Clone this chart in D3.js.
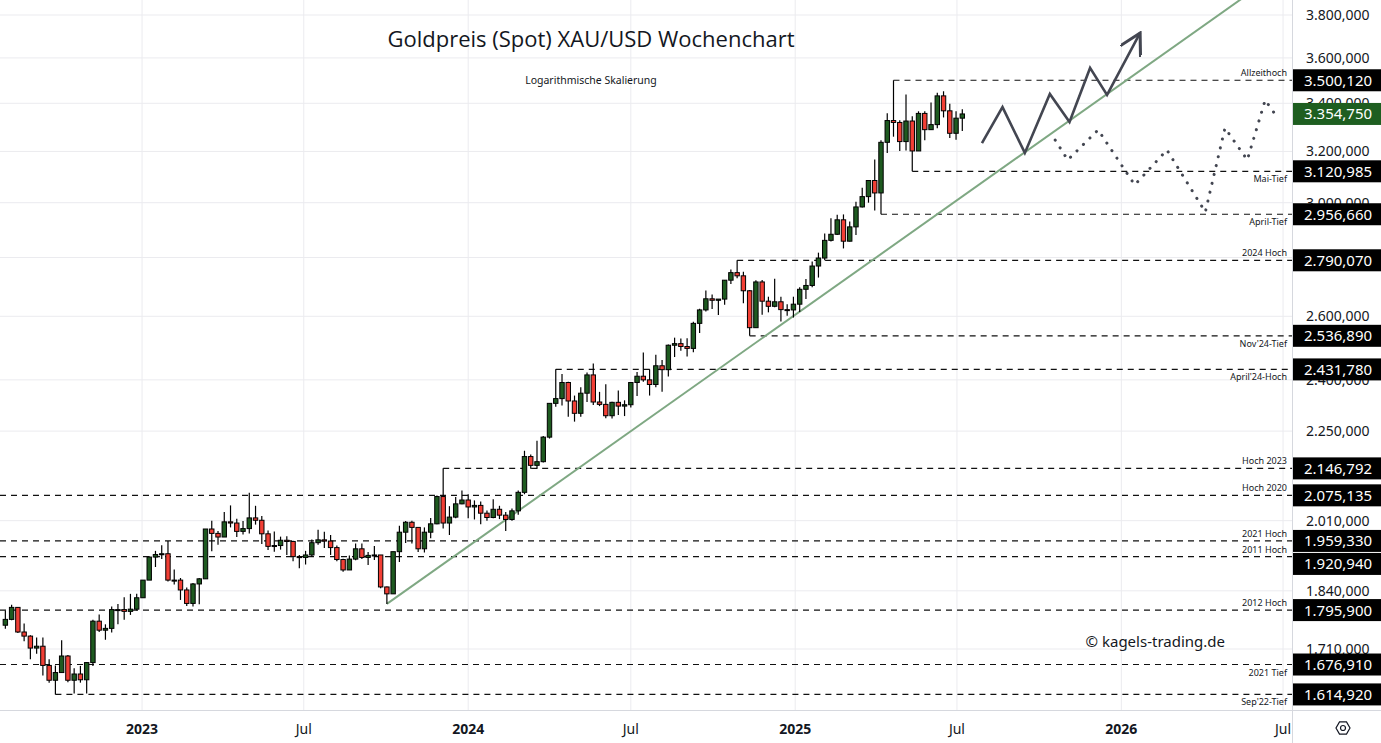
<!DOCTYPE html>
<html>
<head>
<meta charset="utf-8">
<script src="https://cdn.jsdelivr.net/npm/d3@7"></script>
<style>
  body { margin: 0; background: #fff; }
  svg { display: block; font-family: "Noto Sans", "Open Sans", sans-serif; }
</style>
</head>
<body>
<div id="chart"></div>
<script>
// weekly candles: week start, open, high, low, close
const candles = [
  ["2022-08-01",1762,1795,1754,1775],["2022-08-08",1775,1808,1773,1802],["2022-08-15",1802,1803,1745,1747],
  ["2022-08-22",1747,1766,1727,1738],["2022-08-29",1738,1740,1688,1712],["2022-09-05",1712,1735,1700,1716],
  ["2022-09-12",1716,1735,1654,1675],["2022-09-19",1675,1688,1639,1644],["2022-09-26",1644,1675,1615,1660],
  ["2022-10-03",1660,1729,1660,1695],["2022-10-10",1695,1697,1640,1644],["2022-10-17",1644,1669,1617,1657],
  ["2022-10-24",1657,1674,1639,1645],["2022-10-31",1645,1682,1617,1681],["2022-11-07",1681,1774,1674,1771],
  ["2022-11-14",1771,1786,1747,1751],["2022-11-21",1751,1764,1730,1755],["2022-11-28",1755,1804,1746,1797],
  ["2022-12-05",1797,1810,1764,1797],["2022-12-12",1797,1825,1774,1793],["2022-12-19",1793,1833,1785,1798],
  ["2022-12-26",1798,1833,1795,1824],
  ["2023-01-02",1824,1865,1824,1865],["2023-01-09",1865,1922,1865,1920],["2023-01-16",1920,1935,1896,1926],
  ["2023-01-23",1926,1949,1915,1928],["2023-01-30",1928,1959,1862,1865],["2023-02-06",1865,1890,1855,1865],
  ["2023-02-13",1865,1870,1819,1842],["2023-02-20",1842,1848,1805,1811],["2023-02-27",1811,1858,1804,1856],
  ["2023-03-06",1856,1870,1809,1868],["2023-03-13",1868,1989,1868,1989],["2023-03-20",1989,2010,1934,1978],
  ["2023-03-27",1978,1984,1950,1969],["2023-04-03",1969,2032,1969,2007],["2023-04-10",2007,2049,1993,2004],
  ["2023-04-17",2004,2015,1969,1983],["2023-04-24",1983,2009,1975,1990],["2023-05-01",1990,2082,1978,2017],
  ["2023-05-08",2017,2048,2000,2011],["2023-05-15",2011,2022,1952,1977],["2023-05-22",1977,1985,1937,1946],
  ["2023-05-29",1946,1983,1933,1948],["2023-06-05",1948,1970,1938,1961],["2023-06-12",1961,1971,1925,1958],
  ["2023-06-19",1958,1960,1910,1921],["2023-06-26",1921,1925,1893,1919],["2023-07-03",1919,1935,1902,1925],
  ["2023-07-10",1925,1963,1920,1955],["2023-07-17",1955,1987,1950,1962],["2023-07-24",1962,1982,1942,1959],
  ["2023-07-31",1959,1974,1925,1943],["2023-08-07",1943,1948,1910,1914],["2023-08-14",1914,1916,1885,1889],
  ["2023-08-21",1889,1924,1889,1915],["2023-08-28",1915,1953,1912,1940],["2023-09-04",1940,1953,1915,1919],
  ["2023-09-11",1919,1932,1901,1924],["2023-09-18",1924,1947,1913,1925],["2023-09-25",1925,1925,1846,1849],
  ["2023-10-02",1849,1850,1810,1833],["2023-10-09",1833,1933,1833,1933],["2023-10-16",1933,1997,1908,1981],
  ["2023-10-23",1981,2009,1954,2006],["2023-10-30",2006,2010,1953,1993],["2023-11-06",1993,1993,1932,1940],
  ["2023-11-13",1940,1993,1931,1981],["2023-11-20",1981,2017,1966,2002],["2023-11-27",2002,2075,2001,2072],
  ["2023-12-04",2072,2147,1990,2004],["2023-12-11",2004,2047,1974,2019],["2023-12-18",2019,2071,2016,2053],
  ["2023-12-25",2053,2088,2052,2063],
  ["2024-01-01",2063,2078,2016,2045],["2024-01-08",2045,2062,2013,2049],["2024-01-15",2049,2059,2001,2029],
  ["2024-01-22",2029,2036,2010,2018],["2024-01-29",2018,2065,2016,2039],["2024-02-05",2039,2048,2014,2024],
  ["2024-02-12",2024,2032,1984,2013],["2024-02-19",2013,2041,2010,2035],["2024-02-26",2035,2088,2025,2083],
  ["2024-03-04",2083,2195,2078,2179],["2024-03-11",2179,2185,2146,2155],["2024-03-18",2155,2223,2146,2165],
  ["2024-03-25",2165,2236,2163,2233],["2024-04-01",2233,2330,2229,2330],["2024-04-08",2330,2432,2320,2344],
  ["2024-04-15",2344,2418,2324,2392],["2024-04-22",2392,2394,2291,2337],["2024-04-29",2337,2353,2277,2301],
  ["2024-05-06",2301,2378,2291,2360],["2024-05-13",2360,2422,2334,2415],["2024-05-20",2415,2450,2325,2334],
  ["2024-05-27",2334,2364,2322,2327],["2024-06-03",2327,2387,2287,2294],["2024-06-10",2294,2335,2286,2333],
  ["2024-06-17",2333,2368,2296,2322],["2024-06-24",2322,2339,2293,2326],["2024-07-01",2326,2393,2318,2392],
  ["2024-07-08",2392,2424,2352,2411],["2024-07-15",2411,2484,2394,2400],["2024-07-22",2400,2432,2353,2386],
  ["2024-07-29",2386,2477,2378,2443],["2024-08-05",2443,2461,2364,2431],["2024-08-12",2431,2509,2410,2507],
  ["2024-08-19",2507,2531,2470,2512],["2024-08-26",2512,2528,2490,2503],["2024-09-02",2503,2529,2472,2497],
  ["2024-09-09",2497,2582,2485,2577],["2024-09-16",2577,2625,2546,2621],["2024-09-23",2621,2686,2616,2658],
  ["2024-09-30",2658,2672,2624,2653],["2024-10-07",2653,2654,2604,2657],["2024-10-14",2657,2722,2638,2721],
  ["2024-10-21",2721,2758,2708,2747],["2024-10-28",2747,2790,2728,2736],["2024-11-04",2736,2750,2643,2685],
  ["2024-11-11",2685,2688,2537,2563],["2024-11-18",2563,2721,2563,2715],["2024-11-25",2715,2722,2605,2650],
  ["2024-12-02",2650,2665,2613,2633],["2024-12-09",2633,2726,2630,2648],["2024-12-16",2648,2665,2583,2622],
  ["2024-12-23",2622,2640,2602,2621],["2024-12-30",2621,2665,2596,2640],
  ["2025-01-06",2640,2697,2614,2690],["2025-01-13",2690,2725,2657,2703],["2025-01-20",2703,2786,2697,2770],
  ["2025-01-27",2770,2817,2730,2798],["2025-02-03",2798,2886,2790,2861],["2025-02-10",2861,2942,2857,2883],
  ["2025-02-17",2883,2955,2880,2936],["2025-02-24",2936,2956,2832,2858],["2025-03-03",2858,2930,2857,2910],
  ["2025-03-10",2910,3004,2880,2984],["2025-03-17",2984,3057,2982,3023],["2025-03-24",3023,3087,3000,3085],
  ["2025-03-31",3085,3168,2971,3037],["2025-04-07",3037,3245,2957,3237],["2025-04-14",3237,3358,3194,3327],
  ["2025-04-21",3327,3500,3260,3319],["2025-04-28",3319,3328,3202,3240],["2025-05-05",3240,3438,3204,3325],
  ["2025-05-12",3325,3345,3121,3202],["2025-05-19",3202,3366,3202,3357],["2025-05-26",3357,3366,3245,3289],
  ["2025-06-02",3289,3403,3288,3310],["2025-06-09",3310,3446,3295,3432],["2025-06-16",3432,3452,3340,3368],
  ["2025-06-23",3368,3398,3255,3274],["2025-06-30",3274,3366,3247,3337],["2025-07-07",3337,3375,3283,3354.75]
];

const priceTicks = [1710, 1840, 2010, 2250, 2400, 2600, 2800, 3000, 3200, 3400, 3600, 3800];
const timeTicks = ["2023-01-01","2023-07-01","2024-01-01","2024-07-01","2025-01-01","2025-07-01","2026-01-01","2026-07-01"];

// horizontal levels: value, label, start week (null = from left edge), label above line?
const levelValues = [3500.120, 3120.985, 2956.660, 2790.070, 2536.890, 2431.780, 2146.792, 2075.135, 1959.330, 1920.940, 1795.900, 1676.910, 1614.920];
const levelNames = ["Allzeithoch","Mai-Tief","April-Tief","2024 Hoch","Nov'24-Tief","April'24-Hoch","Hoch 2023","Hoch 2020","2021 Hoch","2011 Hoch","2012 Hoch","2021 Tief","Sep'22-Tief"];
const levelStarts = ["2025-04-21","2025-05-12","2025-04-07","2024-10-28","2024-11-11","2024-04-08","2023-12-04",null,null,null,null,null,"2022-09-26"];
const levelAbove = [true,false,false,true,false,false,true,true,true,true,true,false,false];

const lastPrice = 3354.75;

const trendPoints = [["2023-10-02",1810],["2025-04-07",2812]];
const scenarioUp = [["2025-07-29",3234],["2025-08-21",3384],["2025-09-15",3194],["2025-10-13",3440],["2025-11-04",3321],["2025-11-27",3555],["2025-12-16",3436],["2026-01-22",3715]];
const scenarioSide = [["2025-10-19",3246],["2025-11-02",3166],["2025-12-06",3288],["2026-01-16",3068],["2026-02-21",3206],["2026-04-05",2965],["2026-04-27",3296],["2026-05-22",3166],["2026-06-11",3414],["2026-06-25",3338]];

const W = 1381, H = 743, plotR = 1292, plotB = 710;
const parse = d3.utcParse("%Y-%m-%d");
const de = d3.formatLocale({decimal: ",", thousands: ".", grouping: [3], currency: ["", ""]});
const fmt = de.format(",.3f");

const x = d3.scaleUtc().domain([parse("2022-07-26"), parse("2026-07-11")]).range([0, plotR]);
const y = d3.scaleLog().domain([1710, 3800]).range([649, 15]);

const svg = d3.select("#chart").append("svg").attr("width", W).attr("height", H);
const defs = svg.append("defs");
defs.append("clipPath").attr("id", "plot")
  .append("rect").attr("width", plotR).attr("height", plotB);
defs.append("clipPath").attr("id", "plot2")
  .append("rect").attr("width", plotR).attr("height", H);
defs.append("marker").attr("id", "arrow")
  .attr("viewBox", "0 0 10 10").attr("refX", 9).attr("refY", 5)
  .attr("markerWidth", 9).attr("markerHeight", 9).attr("orient", "auto")
  .append("path").attr("d", "M0,0 L9,5 L0,10").attr("fill", "none")
  .attr("stroke", "#434651").attr("stroke-width", 1.3);

const plot = svg.append("g").attr("clip-path", "url(#plot)");

// grid
plot.selectAll(".hg").data(priceTicks).enter().append("line")
  .attr("x1", 0).attr("x2", plotR).attr("y1", d => y(d)).attr("y2", d => y(d))
  .attr("stroke", "#ebebef");
plot.selectAll(".vg").data(timeTicks).enter().append("line")
  .attr("x1", d => x(parse(d))).attr("x2", d => x(parse(d))).attr("y1", 0).attr("y2", plotB)
  .attr("stroke", "#ebebef");

// title
svg.append("text").attr("x", 591).attr("y", 47).attr("text-anchor", "middle")
  .style("font-family", "Open Sans").style("font-size", "22px").attr("fill", "#131722")
  .text("Goldpreis (Spot) XAU/USD Wochenchart");
svg.append("text").attr("x", 591).attr("y", 84).attr("text-anchor", "middle")
  .style("font-size", "10.5px").attr("fill", "#131722").text("Logarithmische Skalierung");

// levels
const levels = levelValues.map((v, i) => ({v, name: levelNames[i], start: levelStarts[i], above: levelAbove[i]}));
plot.selectAll(".lvl").data(levels).enter().append("line")
  .attr("x1", d => d.start ? x(parse(d.start)) : 0).attr("x2", plotR)
  .attr("y1", d => y(d.v)).attr("y2", d => y(d.v))
  .attr("stroke", "#111").attr("stroke-width", 1.2).attr("stroke-dasharray", "6,5");
plot.selectAll(".lvlt").data(levels).enter().append("text")
  .attr("x", plotR - 5).attr("y", d => y(d.v) + (d.above ? -4 : 11))
  .attr("text-anchor", "end").style("font-size", "9px").attr("fill", "#131722")
  .text(d => d.name);

// trend line
const tx0 = x(parse(trendPoints[0][0])), ty0 = y(trendPoints[0][1]);
const tx1 = x(parse(trendPoints[1][0])), ty1 = y(trendPoints[1][1]);
const slope = (ty1 - ty0) / (tx1 - tx0);
plot.append("line").attr("x1", tx0).attr("y1", ty0)
  .attr("x2", plotR).attr("y2", ty0 + slope * (plotR - tx0))
  .attr("stroke", "#7fa883").attr("stroke-width", 2);

// candles
const cw = 4.4;
const cg = plot.selectAll(".c").data(candles).enter().append("g");
cg.append("line")
  .attr("x1", d => x(parse(d[0]))).attr("x2", d => x(parse(d[0])))
  .attr("y1", d => y(d[2])).attr("y2", d => y(d[3]))
  .attr("stroke", "#000").attr("stroke-width", 1.2);
cg.append("rect")
  .attr("x", d => x(parse(d[0])) - cw / 2).attr("width", cw)
  .attr("y", d => y(Math.max(d[1], d[4])))
  .attr("height", d => Math.max(1, Math.abs(y(d[1]) - y(d[4]))))
  .attr("fill", d => d[4] >= d[1] ? "#1e5a20" : "#f23f35")
  .attr("stroke", "#000").attr("stroke-width", 1);

// scenarios
const line = d3.line().x(d => x(parse(d[0]))).y(d => y(d[1]));
plot.append("path").attr("d", line(scenarioUp)).attr("fill", "none")
  .attr("stroke", "#434651").attr("stroke-width", 2.6).attr("stroke-linejoin", "miter")
  .attr("marker-end", "url(#arrow)");
plot.append("path").attr("d", line(scenarioSide)).attr("fill", "none")
  .attr("stroke", "#434651").attr("stroke-width", 3).attr("stroke-linecap", "round")
  .attr("stroke-dasharray", "0.1,9");

svg.append("text").attr("x", 1225).attr("y", 647).attr("text-anchor", "end")
  .style("font-size", "15px").attr("fill", "#131722").text("© kagels-trading.de");

// axes frame
svg.append("line").attr("x1", plotR + 0.5).attr("x2", plotR + 0.5).attr("y1", 0).attr("y2", H).attr("stroke", "#d6d8de");
svg.append("line").attr("x1", 0).attr("x2", W).attr("y1", plotB + 0.5).attr("y2", plotB + 0.5).attr("stroke", "#d6d8de");

// level boxes, pushed apart when they overlap
const boxes = levels.map(d => ({v: d.v, fill: "#000"})).concat([{v: lastPrice, fill: "#1e5e20"}])
  .map(d => ({...d, cy: y(d.v)})).sort((a, b) => a.cy - b.cy);
for (let i = 1; i < boxes.length; i++) {
  if (boxes[i].cy - boxes[i - 1].cy < 23) boxes[i].cy = boxes[i - 1].cy + 23;
}

// price axis labels (skip those fully hidden under a box)
const shownTicks = priceTicks.filter(t => !boxes.some(b => Math.abs(b.cy - y(t)) < 6));
svg.selectAll(".pt").data(shownTicks).enter().append("text")
  .attr("x", 1306).attr("y", d => y(d) + 5).style("font-size", "14px").attr("fill", "#131722")
  .text(d => fmt(d));

const bg = svg.selectAll(".box").data(boxes).enter().append("g");
bg.append("rect").attr("x", plotR + 1).attr("width", W - plotR - 1)
  .attr("y", d => d.cy - 11).attr("height", 22).attr("fill", d => d.fill);
bg.append("text").attr("x", 1304).attr("y", d => d.cy + 5.5)
  .style("font-size", "15px").attr("fill", "#fff").text(d => fmt(d.v));

// time axis labels
const tclip = svg.append("g").attr("clip-path", "url(#plot2)");
tclip.selectAll(".tt").data(timeTicks).enter().append("text")
  .attr("x", d => x(parse(d))).attr("y", 734).attr("text-anchor", "middle")
  .style("font-size", "14px").style("font-weight", d => d.endsWith("01-01") ? "bold" : "normal")
  .attr("fill", "#131722")
  .text(d => d.endsWith("01-01") ? d.slice(0, 4) : "Jul");

// settings icon
const ic = svg.append("g").attr("transform", "translate(1343,728)");
ic.append("polygon").attr("points", d3.range(6).map(i => {
    const a = Math.PI / 3 * i;
    return [7 * Math.cos(a), 7 * Math.sin(a)].join(",");
  }).join(" "))
  .attr("fill", "none").attr("stroke", "#131722").attr("stroke-width", 1.2);
ic.append("circle").attr("r", 2.5).attr("fill", "none").attr("stroke", "#131722").attr("stroke-width", 1.2);
</script>
</body>
</html>
